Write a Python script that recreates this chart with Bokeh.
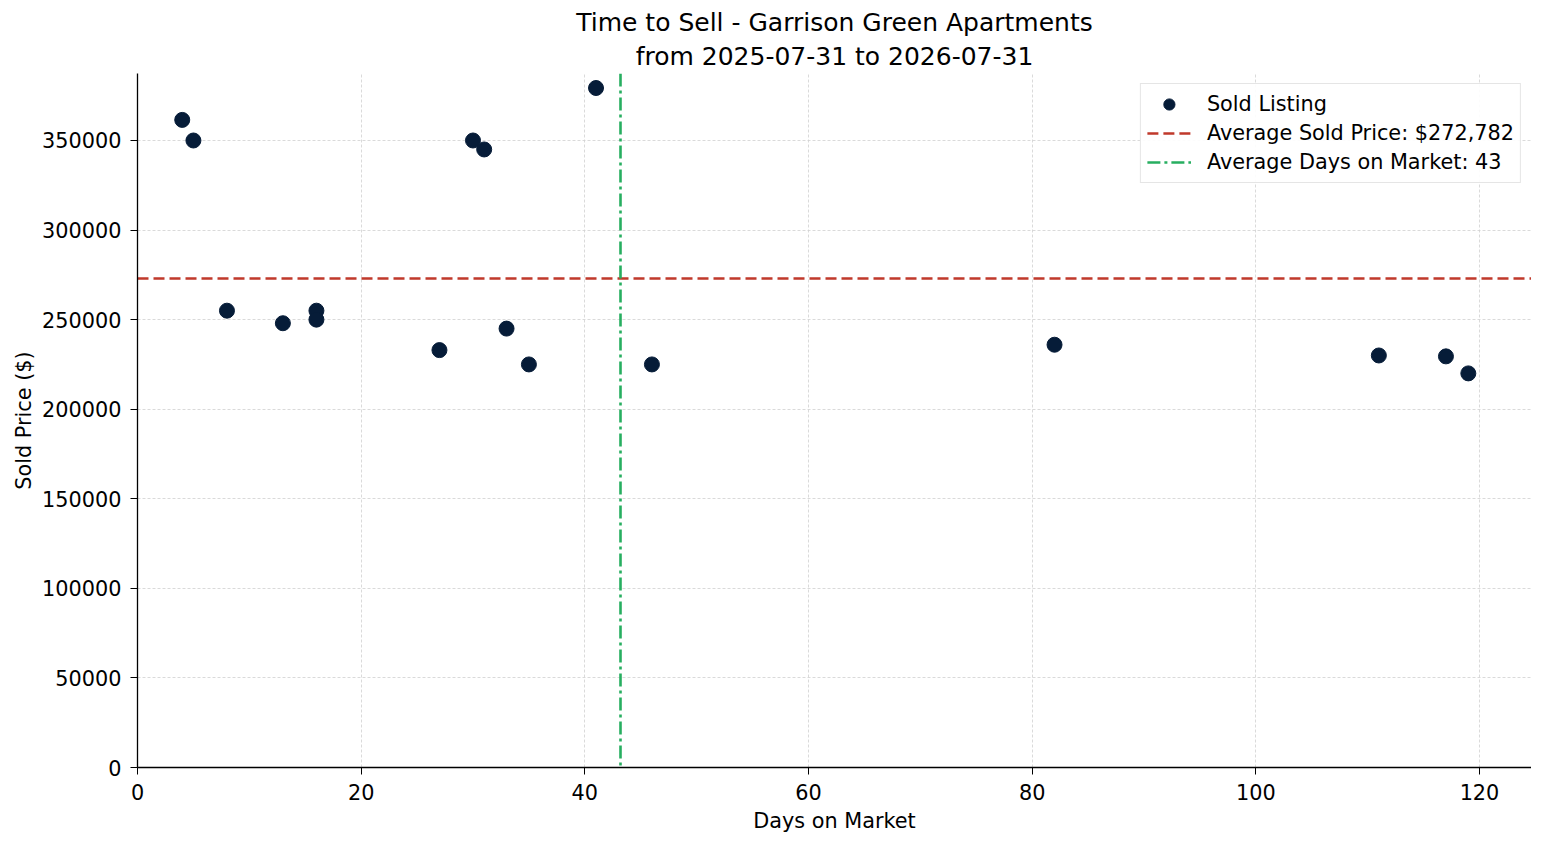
import numpy as np
from bokeh.plotting import figure
from bokeh.models import Title, BasicTickFormatter, FixedTicker, Range1d, Legend, LegendItem
from bokeh.embed import file_html
from bokeh.resources import INLINE

# Sold listings
days_on_market = [4, 5, 8, 13, 16, 16, 27, 30, 31, 33, 35, 41, 46, 82, 111, 117, 119]
sold_price = [361500, 350000, 255000, 248000, 255000, 250000, 233000, 350000, 345000,
              245000, 225000, 379300, 225000, 236000, 230000, 229500, 220000]

avg_price = np.mean(sold_price)
avg_days = np.mean(days_on_market)

FONT = "DejaVu Sans"
TXT = "20.8px"

p = figure(
    width=1531, height=836,
    x_range=Range1d(0, 124.65), y_range=Range1d(0, 387400),
    output_backend="svg", toolbar_location=None, title=None,
    min_border_left=137, min_border_right=0, min_border_bottom=69, min_border_top=73,
)

# two title lines, closest to the plot first
p.add_layout(Title(text="from 2025-07-31 to 2026-07-31", align="center",
                   text_font=FONT, text_font_size="25px", text_font_style="normal",
                   text_color="#000000", text_line_height=1.0, standoff=6), "above")
p.add_layout(Title(text="Time to Sell - Garrison Green Apartments", align="center",
                   text_font=FONT, text_font_size="25px", text_font_style="normal",
                   text_color="#000000", text_line_height=1.0, standoff=0), "above")

pts = p.scatter(days_on_market, sold_price, size=15, color="#061c38", line_color="#061c38")
hl = p.hspan(y=[avg_price], line_color="#c0392b", line_width=2.4, line_dash="11 5")
vl = p.vspan(x=[avg_days], line_color="#27ae60", line_width=2.6, line_dash="13 4 3 4")

legend = Legend(items=[
    LegendItem(label="Sold Listing", renderers=[pts]),
    LegendItem(label=f"Average Sold Price: ${avg_price:,.0f}", renderers=[hl]),
    LegendItem(label=f"Average Days on Market: {avg_days:.0f}", renderers=[vl]),
], location="top_right")
legend.label_text_font = FONT
legend.label_text_font_size = TXT
legend.label_text_color = "#000000"
legend.glyph_width = 44
legend.glyph_height = 28
legend.label_height = 28
legend.label_standoff = 16
legend.spacing = 1
legend.padding = 6
legend.margin = 10
legend.border_line_color = "#cccccc"
legend.border_line_width = 1.5
legend.background_fill_alpha = 0.9
p.add_layout(legend)

p.xaxis.ticker = FixedTicker(ticks=[0, 20, 40, 60, 80, 100, 120])
p.yaxis.ticker = FixedTicker(ticks=list(range(0, 350001, 50000)))
p.yaxis.formatter = BasicTickFormatter(use_scientific=False)
p.xaxis.axis_label = "Days on Market"
p.yaxis.axis_label = "Sold Price ($)"

for ax in (p.xaxis, p.yaxis):
    ax.axis_label_text_font = FONT
    ax.axis_label_text_font_size = TXT
    ax.axis_label_text_font_style = "normal"
    ax.axis_label_text_color = "#000000"
    ax.major_label_text_font = FONT
    ax.major_label_text_font_size = TXT
    ax.major_label_text_color = "#000000"
    ax.axis_line_color = "#000000"
    ax.axis_line_width = 1.3
    ax.major_tick_line_color = "#000000"
    ax.major_tick_in = 0
    ax.major_tick_out = 7
    ax.minor_tick_line_color = None
    ax.major_label_standoff = 9
p.xaxis.axis_label_standoff = 6
p.yaxis.axis_label_standoff = 3

p.grid.grid_line_color = "#d0d0d0"
p.grid.grid_line_dash = "3 2"
p.grid.grid_line_width = 0.8
p.outline_line_color = None

open("out.html", "w").write(file_html(p, INLINE))
